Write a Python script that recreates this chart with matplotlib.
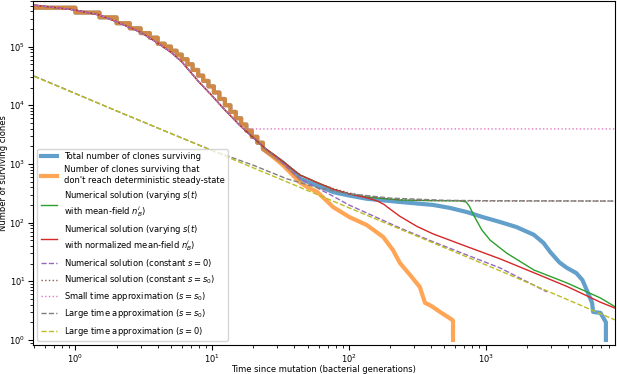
import matplotlib
matplotlib.use('Agg')
import matplotlib.pyplot as plt
import numpy as np

plt.rcParams['font.size'] = 6
plt.rcParams['mathtext.default'] = 'it'

# stochastic simulation, early staircase (shared by blue and orange)
stair_t = [0.5, 1, 1.5, 2, 2.5, 3, 3.5, 4, 4.5, 5, 5.5, 6, 6.6, 7.2, 7.9, 8.6, 9.4, 10.3, 11.3, 12.4,
           13.6, 14.9, 16.3, 17.8, 19.5, 21.4, 23.5]
stair_n = [4.6e5, 3.8e5, 3.15e5, 2.5e5, 2.05e5, 1.7e5, 1.42e5, 1.12e5, 1.0e5, 8.5e4, 7.3e4, 6.1e4, 5.0e4,
           4.0e4, 3.2e4, 2.6e4, 2.1e4, 1.65e4, 1.28e4, 1.0e4, 7.7e3, 6.0e3, 4.7e3, 3.7e3, 2.9e3, 2.3e3, 1.8e3]

blue_t = [27, 33, 44, 60, 77, 100, 135, 236, 414, 548, 730, 955, 1281, 1680, 2250, 2650, 2950, 3460, 3915,
          4600, 5100, 5600, 6000, 6100, 6900, 7400, 7570, 7570]
blue_n = [1450, 1050, 560, 420, 330, 290, 255, 225, 200, 178, 151, 124, 102, 84, 62, 45, 32, 21, 17,
          13.8, 10.5, 6.3, 4.3, 3.0, 2.9, 2.2, 2.0, 1.0]

orange_t = [27, 33, 44, 50, 58.6, 76.7, 101, 135, 178, 210, 236, 280, 330, 360, 400, 464, 570, 577, 577]
orange_n = [1400, 950, 480, 400, 335, 184, 124, 91, 57, 34, 20.5, 12.8, 8.0, 4.3, 3.8, 3.0, 2.2, 2.1, 1.0]

# numerical solutions, common early part
main_t = [0.5, 1, 1.5, 2, 3, 4, 5, 6, 7, 8, 10, 12, 14, 16, 18, 20, 24]
main_n = [5.1e5, 4.2e5, 3.45e5, 2.65e5, 1.75e5, 1.15e5, 8.0e4, 5.5e4, 3.6e4, 2.5e4, 1.45e4, 9.0e3, 6.2e3,
          4.5e3, 3.5e3, 2.8e3, 1.9e3]

green_t = [30, 44, 60, 77, 100, 135, 236, 400, 650, 720, 760, 832, 937, 1080, 1430, 2250, 3915, 6900, 8800]
green_n = [1300, 650, 470, 370, 310, 273, 243, 237, 235, 225, 190, 124, 75, 50, 30, 15.6, 9.4, 5.2, 3.7]

red_t = [30, 44, 60, 77, 100, 135, 160, 180, 200, 236, 315, 414, 730, 1281, 2250, 3915, 6900, 8800]
red_n = [1300, 640, 470, 370, 310, 265, 235, 205, 170, 128, 86, 64, 39, 24, 14, 8.2, 4.4, 3.5]

purple_t = [30, 44, 60, 77, 100, 135, 236, 414, 730, 1281, 2800]
purple_n = [1250, 560, 380, 280, 200, 146, 81, 47, 28, 16.8, 6.6]

brown_t = [30, 44, 60, 77, 100, 150, 236, 400, 1000, 8800]
brown_n = [1300, 650, 470, 380, 320, 270, 245, 237, 233, 233]

pink_t = [17, 8800]
pink_n = [3950, 3950]

gray_t = [0.5, 2, 5, 10, 20, 35, 60, 100, 200, 500, 1000, 8800]
gray_n = [31500, 8000, 3300, 1700, 950, 560, 390, 310, 262, 240, 236, 233]

olive_t = [0.5, 1281, 8800]
olive_n = [31000, 15, 2.2]

# staircase path (steps-post)
st = np.array(stair_t)
sn = np.array(stair_n)
step_x = np.concatenate([[st[0]], np.repeat(st[1:], 2)])
step_y = np.concatenate([np.repeat(sn[:-1], 2), [sn[-1]]])

fig = plt.figure(figsize=(6.17, 3.74), dpi=100)
ax = fig.add_axes([0.0535, 0.0775, 0.943, 0.92])

ax.plot(np.concatenate([step_x, blue_t]), np.concatenate([step_y, blue_n]), color='C0', lw=3, alpha=0.7,
        label='Total number of clones surviving')
ax.plot(np.concatenate([step_x, orange_t]), np.concatenate([step_y, orange_n]), color='C1', lw=3, alpha=0.7,
        label="Number of clones surviving that\ndon't reach deterministic steady-state")
ax.plot(main_t + green_t, main_n + green_n, color='C2', lw=1,
        label='Numerical solution (varying $s(t)$\nwith mean-field $n_B^i$)')
ax.plot(main_t + red_t, main_n + red_n, color='C3', lw=1,
        label='Numerical solution (varying $s(t)$\nwith normalized mean-field $n_B^i$)')
ax.plot(main_t + purple_t, main_n + purple_n, color='C4', lw=1, ls='--',
        label='Numerical solution (constant $s=0$)')
ax.plot(main_t + brown_t, main_n + brown_n, color='C5', lw=1, ls=':',
        label='Numerical solution (constant $s=s_0$)')
ax.plot(main_t[:14] + pink_t, main_n[:14] + pink_n, color='C6', lw=1, ls=':',
        label='Small time approximation ($s=s_0$)')
ax.plot(gray_t, gray_n, color='C7', lw=1, ls='--',
        label='Large time approximation ($s=s_0$)')
ax.plot(olive_t, olive_n, color='C8', lw=1, ls='--',
        label='Large time approximation ($s=0$)')

ax.set_xscale('log')
ax.set_yscale('log')
ax.set_xlim(0.49, 8800)
ax.set_ylim(0.82, 6e5)
ax.tick_params(which='major', pad=2)
ax.set_xlabel('Time since mutation (bacterial generations)', labelpad=0)
ax.set_ylabel('Number of surviving clones', labelpad=1)
ax.legend(loc='lower left', fontsize=6)

fig.savefig('out.png', dpi=100)
